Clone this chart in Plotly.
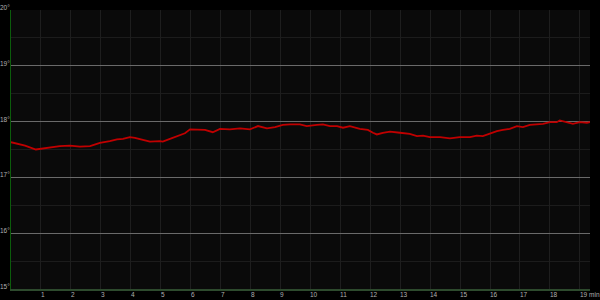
import plotly.graph_objects as go

minutes = [0.00, 0.30, 0.47, 0.83, 0.97, 1.30, 1.63, 1.97, 2.30, 2.64, 2.97, 3.30, 3.54, 3.74, 3.97,
           4.14, 4.41, 4.64, 4.97, 5.07, 5.31, 5.64, 5.81, 5.98, 6.31, 6.48, 6.74, 6.98, 7.31, 7.65,
           7.98, 8.25, 8.55, 8.82, 9.08, 9.32, 9.65, 9.88, 10.22, 10.42, 10.65, 10.89, 11.09, 11.32,
           11.65, 11.92, 12.09, 12.22, 12.42, 12.66, 12.99, 13.32, 13.56, 13.76, 13.99, 14.33, 14.66,
           14.99, 15.33, 15.56, 15.76, 15.99, 16.23, 16.43, 16.66, 16.90, 17.10, 17.33, 17.57, 17.77,
           18.00, 18.23, 18.33, 18.57, 18.77, 19.00, 19.24, 19.34]
temps = [17.63, 17.60, 17.57, 17.50, 17.51, 17.54, 17.56, 17.57, 17.55, 17.56, 17.62, 17.65, 17.68, 17.69, 17.72,
         17.71, 17.67, 17.64, 17.65, 17.64, 17.69, 17.75, 17.79, 17.86, 17.85, 17.85, 17.81, 17.87, 17.86, 17.88,
         17.86, 17.92, 17.88, 17.90, 17.94, 17.95, 17.95, 17.92, 17.94, 17.95, 17.92, 17.92, 17.89, 17.92,
         17.87, 17.85, 17.80, 17.77, 17.80, 17.82, 17.80, 17.78, 17.74, 17.75, 17.72, 17.72, 17.70,
         17.72, 17.72, 17.75, 17.74, 17.79, 17.83, 17.85, 17.87, 17.92, 17.90, 17.94, 17.95, 17.96,
         17.99, 17.99, 18.02, 17.98, 17.96, 17.99, 17.98, 17.99]

x_ticks = list(range(1, 20))
x_labels = [str(v) for v in x_ticks[:-1]] + ["19 min"]
y_ticks = [15, 16, 17, 18, 19, 20]
y_labels = [f"{v}°" for v in y_ticks]

fig = go.Figure()
fig.add_trace(go.Scatter(x=minutes, y=temps, mode="lines",
                         line=dict(color="#c00000", width=1.8), hoverinfo="skip"))

font = dict(family="Liberation Sans, Arial, sans-serif", size=6.5, color="#b0b0b0")

fig.update_layout(
    width=600, height=300,
    margin=dict(l=11, r=10, t=10, b=11, pad=0),
    paper_bgcolor="#000000", plot_bgcolor="#0a0a0a",
    showlegend=False,
    xaxis=dict(range=[0, 19.34], tickvals=x_ticks, showticklabels=False,
               showgrid=True, gridcolor="#1e1e1e", gridwidth=1,
               zeroline=False, showline=True, linecolor="#2d4a2d", linewidth=2,
               ticks="", fixedrange=True, automargin=False),
    yaxis=dict(range=[15, 20], tickvals=y_ticks, showticklabels=False,
               showgrid=True, gridcolor="#6a6a6a", gridwidth=1,
               minor=dict(dtick=0.5, showgrid=True, gridcolor="#1c1c1c", gridwidth=1),
               zeroline=False, showline=True, linecolor="#0b5c0b", linewidth=1,
               ticks="", fixedrange=True, automargin=False),
)

for v, lab in zip(y_ticks, y_labels):
    fig.add_annotation(x=0, y=v, xref="paper", yref="y", text=lab, showarrow=False,
                       xanchor="right", yanchor="bottom", xshift=0, yshift=-2,
                       borderpad=0, font=font)

for v, lab in zip(x_ticks, x_labels):
    fig.add_annotation(x=v, y=0, xref="x", yref="paper", text=lab, showarrow=False,
                       xanchor="left", yanchor="top", xshift=-1, yshift=-1,
                       borderpad=0, font=font)

fig.write_html("out.html")
